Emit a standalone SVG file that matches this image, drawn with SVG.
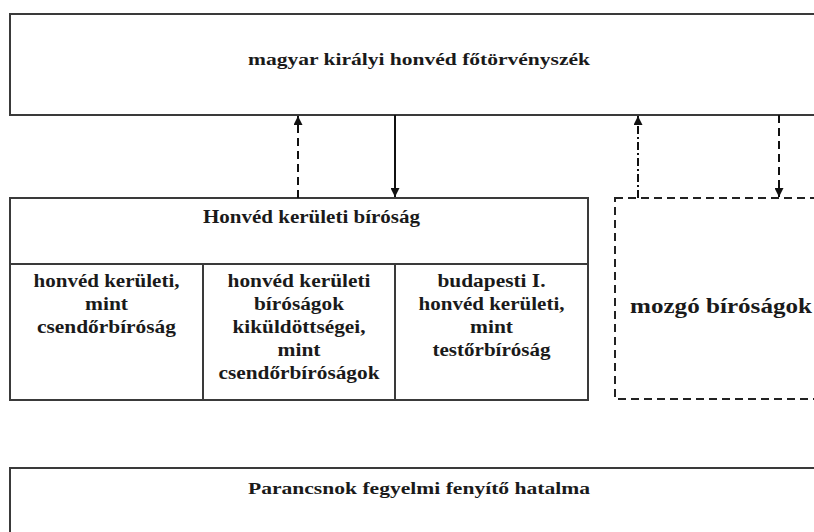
<svg xmlns="http://www.w3.org/2000/svg" width="814" height="532" viewBox="0 0 814 532">
<defs>
<style>
.box{fill:#fff;stroke:#3a3a3a;stroke-width:2}
.dbox{fill:#fff;stroke:#222;stroke-width:2;stroke-dasharray:8 5}
.t{font-family:"Liberation Serif","Times New Roman",serif;font-weight:bold;fill:#1a1a1a;text-anchor:middle}
.s18{font-size:18px}
.s16{font-size:16px}
.s22{font-size:22px}
.c{stroke:#111;stroke-width:2;fill:none}
.dash{stroke-dasharray:8 5}
.dashdot{stroke-dasharray:8 3 2 3}
</style>
<marker id="ah" viewBox="0 0 10 10" refX="10" refY="5" markerWidth="9" markerHeight="9" markerUnits="userSpaceOnUse" orient="auto">
<path d="M0,0 L10,5 L0,10 z" fill="#111"/>
</marker>
</defs>
<rect width="814" height="532" fill="#fff"/>

<g id="fotorvenyszek">
<rect class="box" x="10" y="14" width="830" height="101"/>
<text class="t s16" x="419" y="65" textLength="342" lengthAdjust="spacingAndGlyphs">magyar királyi honvéd főtörvényszék</text>
</g>

<g id="honved-keruleti-birosag">
<rect class="box" x="10" y="198" width="578" height="202"/>
<line class="box" x1="10" y1="264" x2="588" y2="264"/>
<line class="box" x1="203" y1="264" x2="203" y2="400"/>
<line class="box" x1="395" y1="264" x2="395" y2="400"/>
<text class="t s18" x="311.5" y="223" textLength="217" lengthAdjust="spacingAndGlyphs">Honvéd kerületi bíróság</text>
</g>

<g id="csendorbirosag">
<text class="t s18" x="106.5" y="287" textLength="146" lengthAdjust="spacingAndGlyphs">honvéd kerületi,</text>
<text class="t s18" x="106.5" y="310" textLength="43" lengthAdjust="spacingAndGlyphs">mint</text>
<text class="t s18" x="106.5" y="333" textLength="139" lengthAdjust="spacingAndGlyphs">csendőrbíróság</text>
</g>

<g id="kikuldottsegek">
<text class="t s18" x="299" y="287" textLength="143" lengthAdjust="spacingAndGlyphs">honvéd kerületi</text>
<text class="t s18" x="299" y="310" textLength="90" lengthAdjust="spacingAndGlyphs">bíróságok</text>
<text class="t s18" x="299" y="333" textLength="133" lengthAdjust="spacingAndGlyphs">kiküldöttségei,</text>
<text class="t s18" x="299" y="356" textLength="43" lengthAdjust="spacingAndGlyphs">mint</text>
<text class="t s18" x="299" y="379" textLength="161" lengthAdjust="spacingAndGlyphs">csendőrbíróságok</text>
</g>

<g id="testorbirosag">
<text class="t s18" x="491.5" y="287" textLength="108" lengthAdjust="spacingAndGlyphs">budapesti I.</text>
<text class="t s18" x="491.5" y="310" textLength="146" lengthAdjust="spacingAndGlyphs">honvéd kerületi,</text>
<text class="t s18" x="491.5" y="333" textLength="43" lengthAdjust="spacingAndGlyphs">mint</text>
<text class="t s18" x="491.5" y="356" textLength="118" lengthAdjust="spacingAndGlyphs">testőrbíróság</text>
</g>

<g id="mozgo-birosagok">
<rect class="dbox" x="615" y="198" width="230" height="201"/>
<text class="t s22" x="630" y="313" textLength="182" lengthAdjust="spacingAndGlyphs" style="text-anchor:start">mozgó bíróságok</text>
</g>

<g id="parancsnok">
<rect class="box" x="10" y="468" width="830" height="80"/>
<text class="t s16" x="419" y="494" textLength="342" lengthAdjust="spacingAndGlyphs">Parancsnok fegyelmi fenyítő hatalma</text>
</g>

<g id="connectors">
<line class="c dash" x1="298" y1="198" x2="298" y2="116" marker-end="url(#ah)"/>
<line class="c" x1="395" y1="115" x2="395" y2="197" marker-end="url(#ah)"/>
<line class="c dashdot" x1="638" y1="198" x2="638" y2="116" marker-end="url(#ah)"/>
<line class="c dash" x1="779" y1="115" x2="779" y2="197" marker-end="url(#ah)"/>
</g>
</svg>
